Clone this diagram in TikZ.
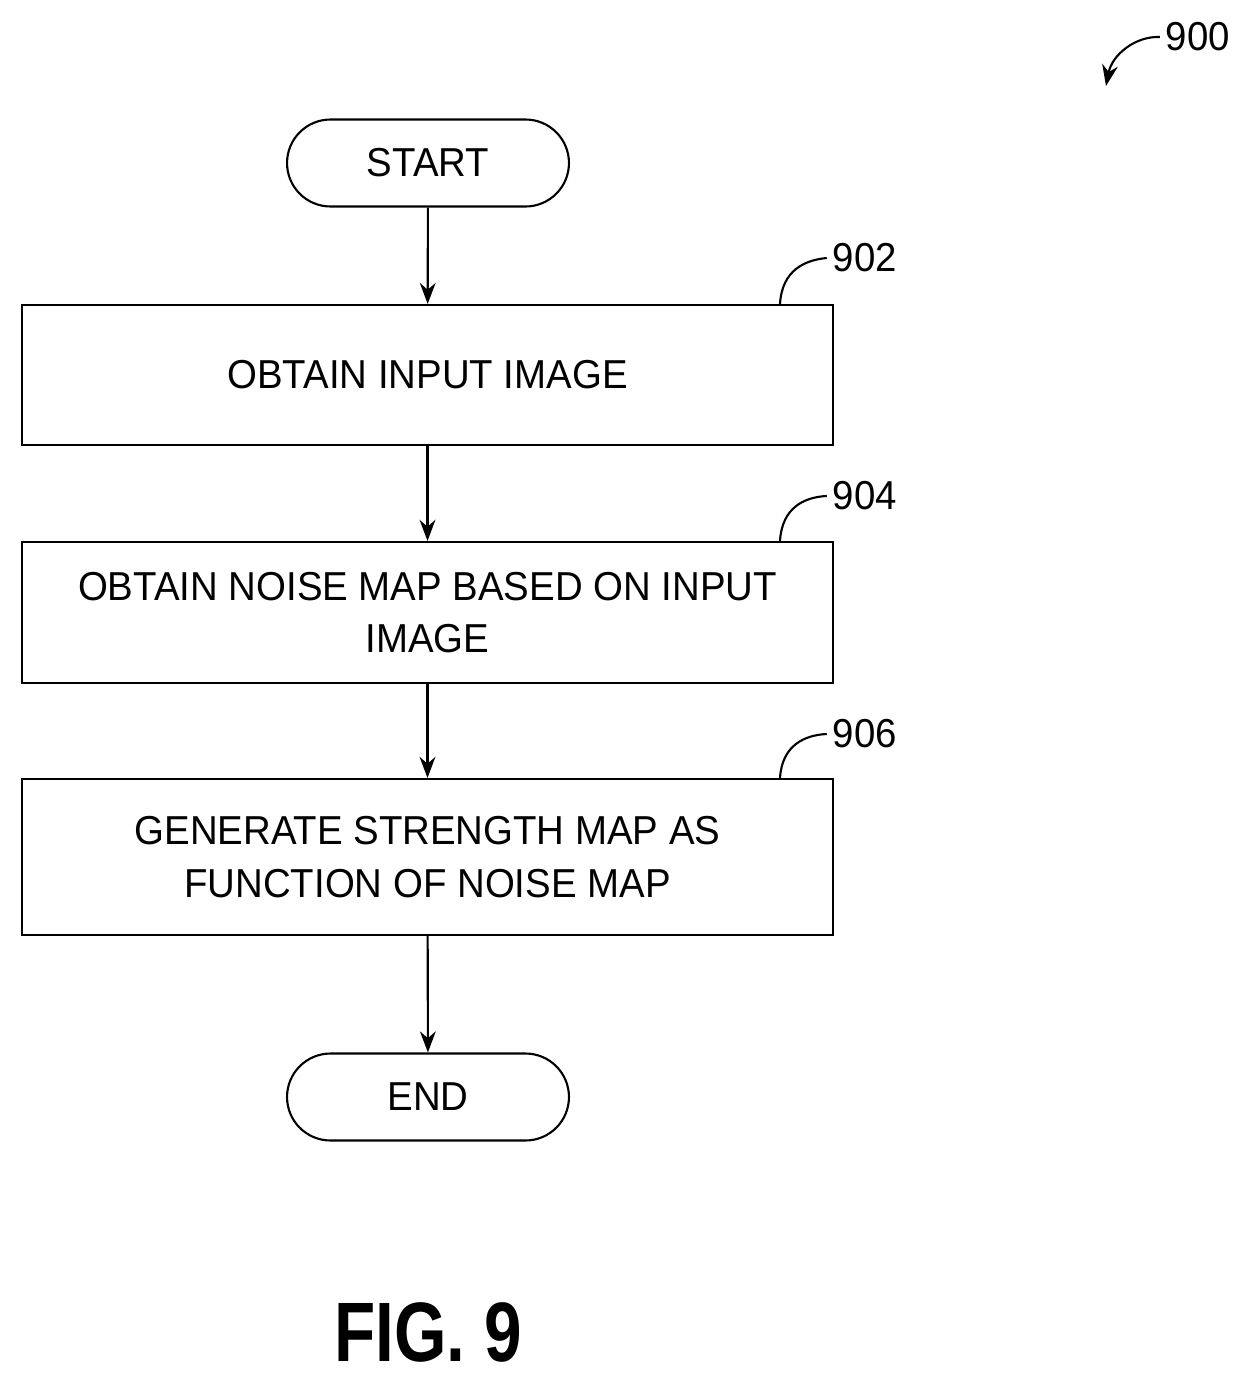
\documentclass[tikz,border=0pt]{standalone}
\usepackage{fontspec}
\setmainfont{Liberation Sans}[FakeStretch=0.95]
\newfontfamily\figfont{Liberation Sans}[FakeStretch=0.8]
\usetikzlibrary{arrows.meta}
\begin{document}
\begin{tikzpicture}[x=0.02cm,y=-0.02cm,
  box/.style={draw,line width=1.2pt,minimum width=16.22cm,align=center,font=\fontsize{23}{30}\selectfont,inner sep=0pt},
  term/.style={draw,line width=1.2pt,rounded corners=0.87cm,minimum width=5.64cm,minimum height=1.74cm,font=\fontsize{23}{28}\selectfont},
  arr/.style={-{Stealth[length=12pt,width=9pt]},line width=1.2pt},
  lbl/.style={font=\fontsize{23}{28}\selectfont},
  lead/.style={line width=1.2pt}]
\useasboundingbox (0,0) rectangle (1240,1376);
\node[term] (s) at (428,163) {START};
\node[box,minimum height=2.8cm] (b1) at (427.5,375) {OBTAIN INPUT IMAGE};
\node[box,minimum height=2.82cm] (b2) at (427.5,612.5) {OBTAIN NOISE MAP BASED ON INPUT\\IMAGE};
\node[box,minimum height=3.12cm] (b3) at (427.5,857) {GENERATE STRENGTH MAP AS\\FUNCTION OF NOISE MAP};
\node[term] (e) at (428,1097) {END};
\draw[arr] (s) -- (b1);
\draw[arr] (b1) -- (b2);
\draw[arr] (b2) -- (b3);
\draw[arr] (b3) -- (e);
\node[lbl] (l2) at (865,258) {902};
\node[lbl] (l4) at (865,496) {904};
\node[lbl] (l6) at (865,734) {906};
\coordinate (c2) at (780,304);
\coordinate (c4) at (780,541);
\coordinate (c6) at (780,778);
\draw[lead] (c2) .. controls (782,270) and (805,260) .. (l2.west);
\draw[lead] (c4) .. controls (782,507) and (805,497) .. (l4.west);
\draw[lead] (c6) .. controls (782,745) and (805,735) .. (l6.west);
\node[lbl] (l0) at (1198,37) {900};
\coordinate (t0) at (1106,86);
\draw[lead,-{Stealth[length=12pt,width=9pt]}] (l0.west) .. controls (1135,36) and (1112,55) .. (t0);
\node[font=\figfont\bfseries\fontsize{48}{52}\selectfont] (fig) at (428,1332) {FIG. 9};
\end{tikzpicture}
\end{document}
